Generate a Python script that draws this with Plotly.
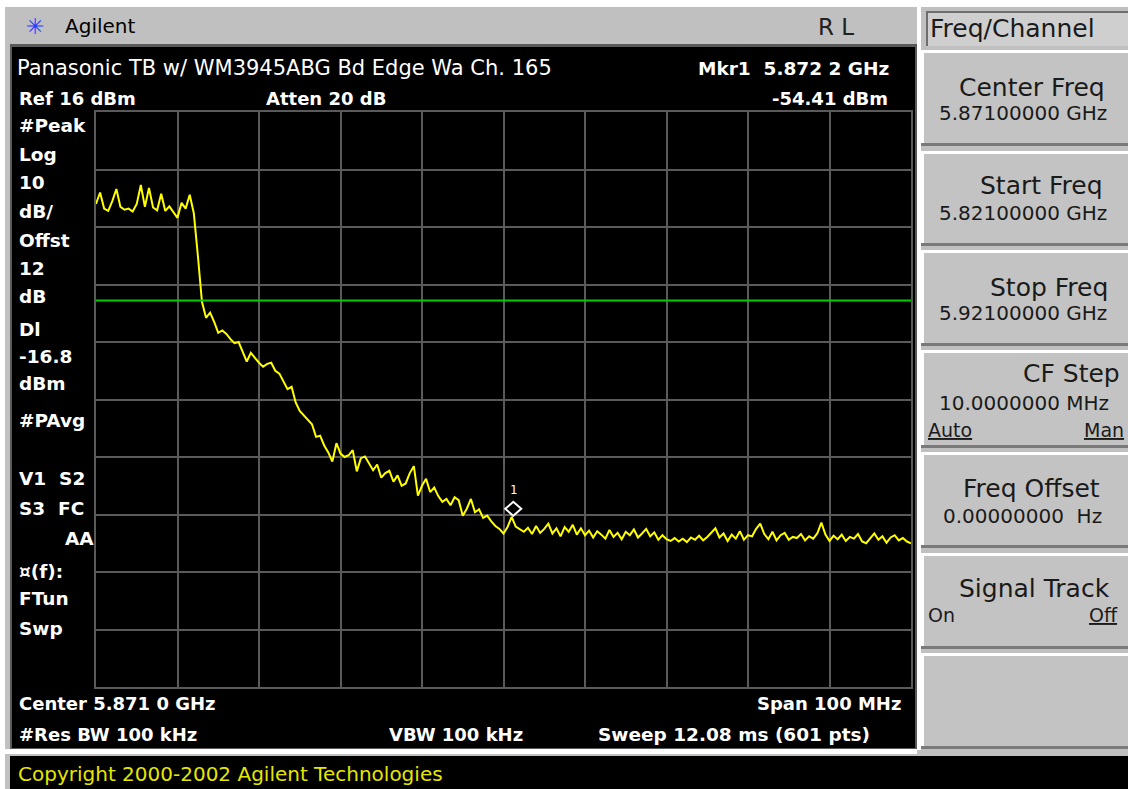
import numpy as np
import plotly.graph_objects as go

# ---------------- data ----------------
start_ghz = 5.821
stop_ghz = 5.921
ref_dbm = 16.0
db_per_div = 10.0
display_line_dbm = -16.8
mkr_freq_ghz = 5.8722
mkr_level_dbm = -54.41

level_dbm = [
    0.0, 2.0, -0.8, -1.2, 0.5, 2.6, -0.5, -1.0, -0.8, -1.3,
    0.0, 3.3, -0.5, 2.8, -0.6, -1.1, 1.8, -1.2, -0.4, -1.4,
    -2.4, 0.2, -0.8, 1.6, -1.6, -9.0, -17.0, -19.8, -18.9, -20.5,
    -22.4, -22.0, -22.6, -23.5, -24.2, -24.0, -25.8, -27.4, -25.9, -26.8,
    -27.6, -28.3, -27.8, -27.6, -29.0, -29.5, -31.0, -32.2, -31.8, -34.5,
    -36.0, -36.8, -37.6, -38.3, -40.5, -40.3, -42.0, -43.2, -44.8, -41.6,
    -43.4, -44.0, -43.7, -42.8, -46.5, -44.2, -43.9, -45.0, -46.3, -45.3,
    -47.6, -46.8, -46.4, -48.3, -47.2, -49.0, -48.6, -46.8, -45.6, -50.7,
    -49.0, -47.8, -50.1, -49.3, -50.8, -51.8, -51.3, -52.4, -51.0, -51.5,
    -54.2, -53.0, -51.3, -53.6, -53.1, -54.6, -54.2, -55.2, -56.0, -56.5,
    -57.3, -56.2, -54.4, -56.1, -56.6, -57.0, -56.3, -57.4, -56.0, -57.2,
    -56.5, -55.6, -57.3, -56.4, -57.8, -56.2, -57.0, -55.8, -57.5, -56.4,
    -57.6, -56.8, -58.0, -56.9, -57.5, -58.2, -56.7, -57.9, -57.2, -58.3,
    -57.0, -57.6, -56.6, -58.0, -57.3, -56.5, -57.8, -57.1, -58.4, -57.6,
    -58.3, -58.6, -58.1, -58.7, -58.2, -58.8, -58.0, -58.4, -57.7, -58.5,
    -57.9, -57.2, -56.4, -58.0, -57.3, -58.6, -57.5, -58.2, -56.9, -58.4,
    -57.6, -57.8, -56.5, -55.6, -57.4, -58.3, -57.0, -58.5, -57.6, -57.2,
    -58.4, -57.9, -58.1, -57.4, -58.5, -57.8, -58.2, -57.3, -55.4, -57.5,
    -58.6, -57.7, -58.3, -57.5, -58.6, -57.9, -58.2, -57.4, -58.7, -59.0,
    -58.2, -57.3, -58.4, -57.8, -58.9, -58.0, -57.6, -58.5, -58.1, -58.7,
    -59.0,
]
freq_ghz = np.linspace(start_ghz, stop_ghz, len(level_dbm))

left_labels = ["#Peak", "Log", "10", "dB/", "Offst", "12", "dB", "Dl", "-16.8", "dBm",
               "#PAvg", "V1  S2", "S3  FC", "¤(f):", "FTun", "Swp"]
left_label_y = [125, 154, 182, 211, 241, 268, 296, 329, 356, 383,
                420, 478, 508, 571, 598, 628]

# ---------------- layout geometry (pixels) ----------------
W, H = 1128, 789
PL, PR, PT, PB = 96, 911, 112, 687


def X(px):
    return (px - PL) / (PR - PL)


def Y(py):
    return (PB - py) / (PB - PT)


shapes = []
annotations = []


def rect(x0, y0, x1, y1, color, line=None):
    shapes.append(dict(type="rect", xref="paper", yref="paper",
                       x0=X(x0), x1=X(x1), y0=Y(y1), y1=Y(y0),
                       fillcolor=color, line=dict(width=0) if line is None else line,
                       layer="below"))


def txt(s, x, y, size=18, color="white", bold=True, anchor="left",
        family="DejaVu Sans"):
    annotations.append(dict(text=("<b>%s</b>" % s) if bold else s,
                            xref="paper", yref="paper", x=X(x), y=Y(y),
                            xanchor=anchor, yanchor="middle", showarrow=False,
                            font=dict(size=size, color=color, family=family),
                            borderpad=0))


GRAY = "#c0c0c0"
# page pieces
rect(0, 0, W, 7, "white")
rect(0, 0, 5, H, "white")
rect(10, 44, 917, 750, "#5a5a5a")        # screen frame
rect(12, 47, 915, 748, "black")           # screen
rect(0, 749, 917, 754, "white")
rect(10, 756, W, H, "black")              # copyright bar

# softkey panel
rect(917, 7, 921, 750, "white")
rect(926, 11, 1128, 46, "#6e6e6e")
rect(928, 13, 1128, 46, "#cfcfcf")
buttons = [(50, 146), (151, 246), (250, 346), (350, 448), (452, 548), (553, 649), (653, 749)]
for (b0, b1) in buttons:
    rect(921, b0, W, b1, "#7a7a7a")
    rect(921, b0, W, b1 - 3, "white")
    rect(924, b0 + 3, W, b1 - 3, "#c3c3c3")

# title bar text
annotations.append(dict(text="✳", xref="paper", yref="paper", x=X(35), y=Y(26),
                        xanchor="center", yanchor="middle", showarrow=False,
                        font=dict(size=22, color="#2a3cff", family="DejaVu Sans")))
txt("Agilent", 64, 26, size=20, color="black", bold=False)
txt("R L", 817, 27, size=23, color="#222222", bold=False)

# screen texts
txt("Panasonic TB w/ WM3945ABG Bd Edge Wa Ch. 165", 16, 68, size=21, bold=False)
txt("Mkr1  5.872 2 GHz", 697, 68, size=18.5)
txt("Ref 16 dBm", 18, 98, size=18)
txt("Atten 20 dB", 265, 98, size=18)
txt("-54.41 dBm", 889, 98, size=18, anchor="right")
for s, yy in zip(left_labels, left_label_y):
    txt(s, 18, yy, size=18.5)
txt("AA", 95, 538, size=18.5, anchor="right")
txt("Center 5.871 0 GHz", 18, 703, size=18)
txt("Span 100 MHz", 902, 703, size=18, anchor="right")
txt("#Res BW 100 kHz", 18, 734, size=18)
txt("VBW 100 kHz", 388, 734, size=18)
txt("Sweep 12.08 ms (601 pts)", 597, 734, size=18.5)
txt("Copyright 2000-2002 Agilent Technologies", 17, 774, size=20, color="#e6e600", bold=False)

# softkey texts
K = "#1a1a1a"
txt("Freq/Channel", 929, 29, size=25, color=K, bold=False)
txt("Center Freq", 1106, 87, size=25, color=K, bold=False, anchor="right")
txt("5.87100000 GHz", 1108, 113, size=20, color=K, bold=False, anchor="right")
txt("Start Freq", 1104, 186, size=25, color=K, bold=False, anchor="right")
txt("5.82100000 GHz", 1108, 213, size=20, color=K, bold=False, anchor="right")
txt("Stop Freq", 1109, 287, size=25, color=K, bold=False, anchor="right")
txt("5.92100000 GHz", 1108, 313, size=20, color=K, bold=False, anchor="right")
txt("CF Step", 1121, 373, size=25, color=K, bold=False, anchor="right")
txt("10.0000000 MHz", 1110, 403, size=20, color=K, bold=False, anchor="right")
txt("<u>Auto</u>", 927, 430, size=19, color=K, bold=False)
txt("<u>Man</u>", 1125, 430, size=19, color=K, bold=False, anchor="right")
txt("Freq Offset", 1101, 488, size=25, color=K, bold=False, anchor="right")
txt("0.00000000  Hz", 1103, 516, size=20, color=K, bold=False, anchor="right")
txt("Signal Track", 1111, 588, size=25, color=K, bold=False, anchor="right")
txt("On", 927, 615, size=19, color=K, bold=False)
txt("<u>Off</u>", 1119, 615, size=19, color=K, bold=False, anchor="right")

# display line
shapes.append(dict(type="line", xref="paper", yref="y", x0=0, x1=1,
                   y0=display_line_dbm, y1=display_line_dbm,
                   line=dict(color="#00cc00", width=2), layer="above"))
# marker diamond (bottom tip at the marker level)
shapes.append(dict(type="path", xref="x", yref="y", xsizemode="pixel", ysizemode="pixel",
                   xanchor=mkr_freq_ghz, yanchor=mkr_level_dbm,
                   path="M0,1 L8,8 L0,15 L-8,8 Z",
                   line=dict(color="white", width=2), fillcolor="black", layer="above"))
annotations.append(dict(text="1", xref="x", yref="y", x=mkr_freq_ghz, y=mkr_level_dbm,
                        yshift=27, showarrow=False,
                        font=dict(size=12, color="white", family="DejaVu Sans Mono")))

fig = go.Figure()
fig.add_trace(go.Scatter(x=freq_ghz, y=level_dbm, mode="lines",
                         line=dict(color="#ffff00", width=2), hoverinfo="skip"))

fig.update_layout(
    width=W, height=H,
    margin=dict(l=PL, r=W - PR, t=PT, b=H - PB, pad=0),
    paper_bgcolor=GRAY, plot_bgcolor="black",
    showlegend=False,
    shapes=shapes, annotations=annotations,
    xaxis=dict(range=[start_ghz, stop_ghz], tick0=start_ghz, dtick=(stop_ghz - start_ghz) / 10,
               showgrid=True, gridcolor="#5a5a5a", gridwidth=2, showticklabels=False,
               ticks="", zeroline=False, showline=True, linecolor="#5a5a5a", linewidth=2,
               mirror=True),
    yaxis=dict(range=[ref_dbm - 10 * db_per_div, ref_dbm], tick0=ref_dbm, dtick=db_per_div,
               showgrid=True, gridcolor="#5a5a5a", gridwidth=2, showticklabels=False,
               ticks="", zeroline=False, showline=True, linecolor="#5a5a5a", linewidth=2,
               mirror=True),
)

fig.write_html("out.html", config={"displayModeBar": False},
               post_script="document.body.style.margin='0';document.body.style.overflow='hidden';")
